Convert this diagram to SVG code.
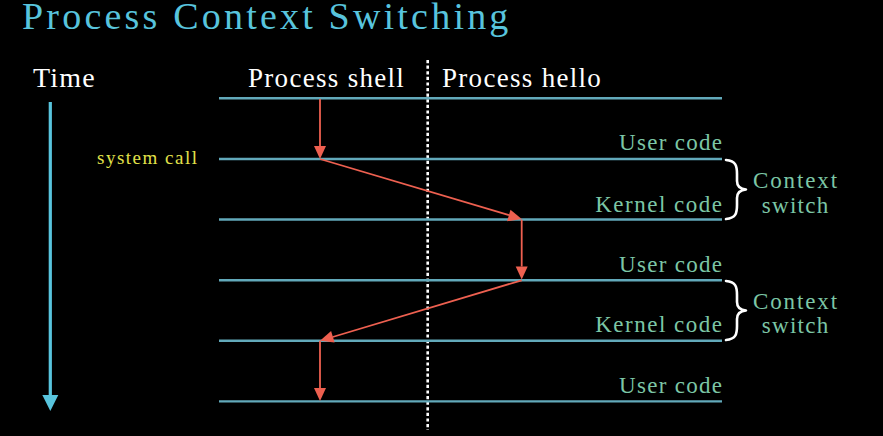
<svg xmlns="http://www.w3.org/2000/svg" width="883" height="436" viewBox="0 0 883 436">
<rect width="883" height="436" fill="#000000"/>
<text font-family="'Liberation Serif', serif" x="22" y="29" font-size="38" letter-spacing="3.2" fill="#58C4DD">Process Context Switching</text>
<g id="time">
<text font-family="'Liberation Serif', serif" x="33" y="87" font-size="28" letter-spacing="1.2" fill="#ffffff">Time</text>
<line x1="50.3" y1="102" x2="50.3" y2="397" stroke="#58C4DD" stroke-width="3.2"/>
<path d="M42.3,395 L58.3,395 L50.3,411 Z" fill="#58C4DD"/>
</g>
<g id="headers" fill="#ffffff" font-size="27" letter-spacing="1.3">
<text font-family="'Liberation Serif', serif" x="248" y="87">Process shell</text>
<text font-family="'Liberation Serif', serif" x="442" y="87">Process hello</text>
</g>
<g id="divider">
<line x1="427.7" y1="60" x2="427.7" y2="430" stroke="#ffffff" stroke-width="2.6" stroke-dasharray="3.2 2.4"/>
</g>
<g id="timelines" stroke="#62A9BA" stroke-width="2.4">
<line x1="219" y1="98.3" x2="722" y2="98.3"/>
<line x1="219" y1="159" x2="722" y2="159"/>
<line x1="219" y1="219.5" x2="722" y2="219.5"/>
<line x1="219" y1="280.3" x2="722" y2="280.3"/>
<line x1="219" y1="340.8" x2="722" y2="340.8"/>
<line x1="219" y1="401.4" x2="722" y2="401.4"/>
</g>
<g id="syscall">
<text font-family="'Liberation Serif', serif" x="97" y="164" font-size="19" letter-spacing="1.5" fill="#E2E24A">system call</text>
</g>
<g id="labels" fill="#7CC6A6" font-size="23" text-anchor="end">
<text font-family="'Liberation Serif', serif" x="723.3" y="150" letter-spacing="1.3">User code</text>
<text font-family="'Liberation Serif', serif" x="723.5" y="211.7" letter-spacing="1.5">Kernel code</text>
<text font-family="'Liberation Serif', serif" x="723.3" y="271.7" letter-spacing="1.3">User code</text>
<text font-family="'Liberation Serif', serif" x="723.5" y="331.7" letter-spacing="1.5">Kernel code</text>
<text font-family="'Liberation Serif', serif" x="723.3" y="392.5" letter-spacing="1.3">User code</text>
</g>
<g id="switch1" fill="#7CC6A6" font-size="23" text-anchor="middle">
<path fill="none" stroke="#ffffff" stroke-width="2.6" stroke-linecap="round" stroke-linejoin="round" d="M726,160 C736,161 737,166 737,174 L737,181 C737,186 740,189 746,189.5 C740,190 737,193 737,198 L737,205 C737,213 736,218 726,219"/>
<text font-family="'Liberation Serif', serif" x="796" y="188" letter-spacing="1.9">Context</text>
<text font-family="'Liberation Serif', serif" x="795.7" y="212.5" letter-spacing="1.3">switch</text>
</g>
<g id="switch2" fill="#7CC6A6" font-size="23" text-anchor="middle">
<path fill="none" stroke="#ffffff" stroke-width="2.6" stroke-linecap="round" stroke-linejoin="round" d="M726,281 C736,282 737,287 737,295 L737,302 C737,307 740,310 746,310.5 C740,311 737,314 737,319 L737,326 C737,334 736,339 726,340"/>
<text font-family="'Liberation Serif', serif" x="796" y="309" letter-spacing="1.9">Context</text>
<text font-family="'Liberation Serif', serif" x="795.7" y="332.7" letter-spacing="1.3">switch</text>
</g>
<g id="connectors" stroke="#EE6050" stroke-width="1.8" fill="none">
<line x1="320" y1="99" x2="320" y2="146"/>
<path d="M314,146 L326,146 L320,159 Z" fill="#EE6050" stroke="none"/>
<line x1="320" y1="159" x2="509" y2="215.2"/>
<path d="M521.7,219 L507.1,221.3 L510.5,209.8 Z" fill="#EE6050" stroke="none"/>
<line x1="521.7" y1="219.5" x2="521.7" y2="266.5"/>
<path d="M515.7,266.5 L527.7,266.5 L521.7,279.5 Z" fill="#EE6050" stroke="none"/>
<line x1="521.7" y1="280.3" x2="332.6" y2="337"/>
<path d="M320,340.8 L331.1,331.0 L334.6,342.5 Z" fill="#EE6050" stroke="none"/>
<line x1="320" y1="340.8" x2="320" y2="388"/>
<path d="M314,388 L326,388 L320,401 Z" fill="#EE6050" stroke="none"/>
</g>
</svg>
